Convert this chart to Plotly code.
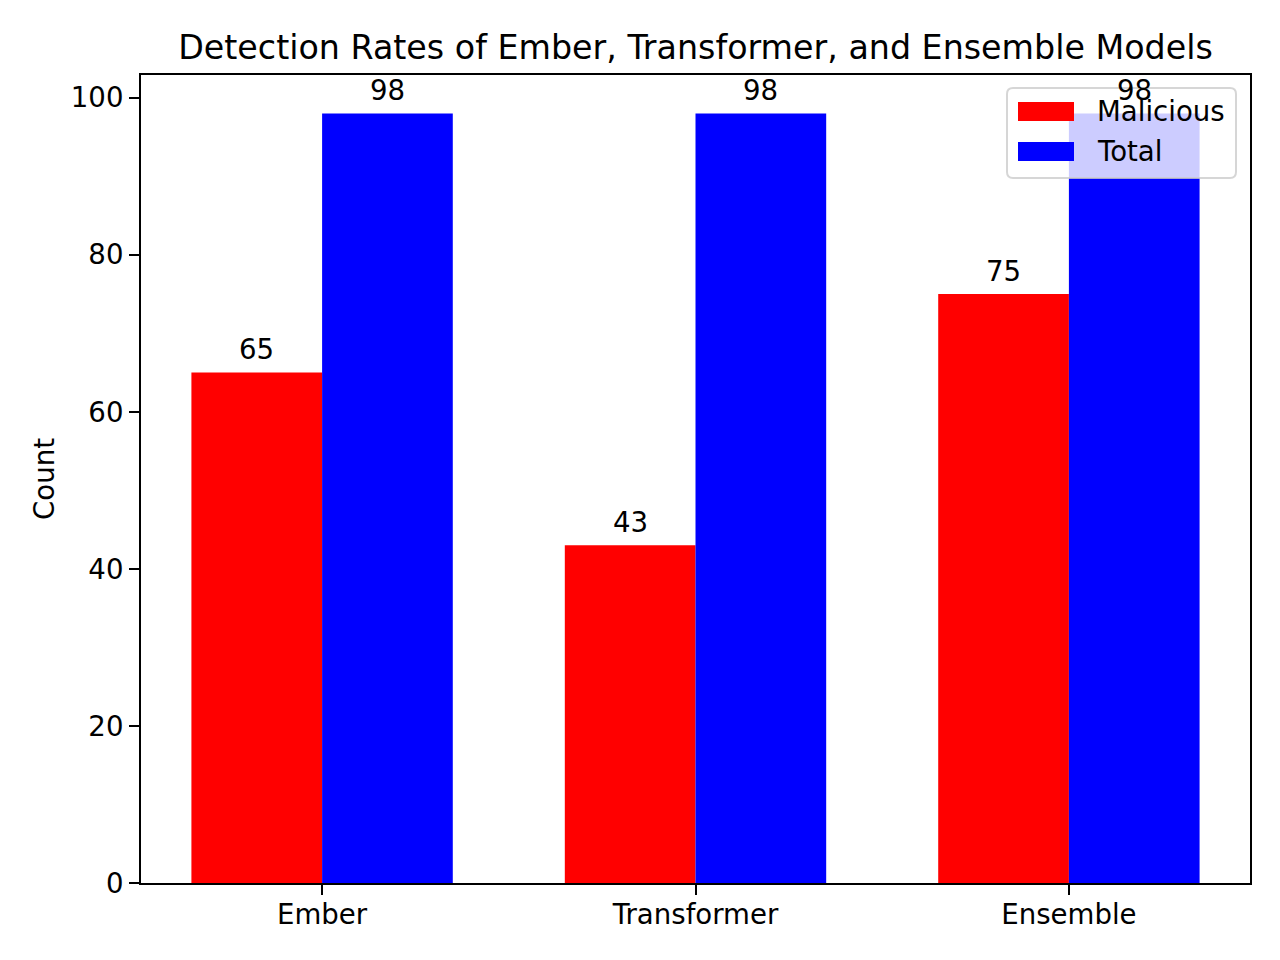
import plotly.graph_objects as go

models = ["Ember", "Transformer", "Ensemble"]
malicious = [65, 43, 75]
total = [98, 98, 98]
series_names = ["Malicious", "Total"]
yticks = [0, 20, 40, 60, 80, 100]

OFF = 8  # page body margin
W, H = 1264, 944
# plot area in screen pixels
L, R, T, B = 141, 1250, 75, 883
pw, ph = R - L, B - T
XRANGE = [-0.485, 2.485]
unit_px = pw / (XRANGE[1] - XRANGE[0])
BAR_W = 0.35

def px_x(p):
    return (p - L) / pw

def px_y(p):
    return (B - p) / ph

font = "DejaVu Sans, sans-serif"
FS = 27.6
TFS = 33.3

fig = go.Figure()
fig.add_trace(go.Bar(x=models, y=malicious, name=series_names[0], marker_color="#ff0000",
                     marker_line_width=0, showlegend=False))
fig.add_trace(go.Bar(x=models, y=total, name=series_names[1], marker_color="#0000ff",
                     marker_line_width=0, showlegend=False))

# value labels above bars
for vals, sign in ((malicious, -1), (total, 1)):
    for m, v in zip(models, vals):
        fig.add_annotation(x=m, y=v, text=str(v), showarrow=False, xref="x", yref="y",
                           xshift=sign * BAR_W / 2 * unit_px, yshift=23,
                           xanchor="center", yanchor="middle",
                           font=dict(size=FS, family=font, color="black"))

fig.update_layout(
    width=W, height=H,
    margin=dict(l=L - OFF, r=W + OFF - R, t=T - OFF, b=H + OFF - B, pad=0),
    paper_bgcolor="white", plot_bgcolor="white",
    barmode="group", bargap=1 - 2 * BAR_W, bargroupgap=0,
    font=dict(family=font, size=FS, color="black"),
    title=dict(text="Detection Rates of Ember, Transformer, and Ensemble Models",
               x=((L + R) / 2 - OFF) / W, xanchor="center", y=1 - (47 - OFF) / H, yanchor="middle",
               font=dict(size=TFS, family=font, color="black")),
)
fig.update_xaxes(range=XRANGE, showgrid=False, showline=True, linecolor="black",
                 linewidth=2, mirror=True, ticks="outside", ticklen=10, tickwidth=2,
                 tickcolor="black", tickfont=dict(size=FS, family=font), ticklabelstandoff=-4)
fig.update_yaxes(range=[0, 102.9], tickvals=yticks, showgrid=False, zeroline=False, showline=True,
                 linecolor="black", linewidth=2, mirror=True, ticks="outside", ticklen=10,
                 tickwidth=2, tickcolor="black", tickfont=dict(size=FS, family=font))

# y-axis title
fig.add_annotation(text="Count", xref="paper", yref="paper", x=px_x(44), y=0.5,
                   textangle=-90, showarrow=False, font=dict(size=FS, family=font),
                   xanchor="center", yanchor="middle")

# legend box (matplotlib-style)
bx0, bx1, by0, by1 = 1007, 1236, 88, 178
r = 6
path = (f"M {px_x(bx0 + r)},{px_y(by0)} L {px_x(bx1 - r)},{px_y(by0)} "
        f"Q {px_x(bx1)},{px_y(by0)} {px_x(bx1)},{px_y(by0 + r)} "
        f"L {px_x(bx1)},{px_y(by1 - r)} Q {px_x(bx1)},{px_y(by1)} {px_x(bx1 - r)},{px_y(by1)} "
        f"L {px_x(bx0 + r)},{px_y(by1)} Q {px_x(bx0)},{px_y(by1)} {px_x(bx0)},{px_y(by1 - r)} "
        f"L {px_x(bx0)},{px_y(by0 + r)} Q {px_x(bx0)},{px_y(by0)} {px_x(bx0 + r)},{px_y(by0)} Z")
fig.add_shape(type="path", path=path, xref="paper", yref="paper", layer="above",
              fillcolor="rgba(255,255,255,0.8)", line=dict(color="rgba(204,204,204,0.8)", width=2))
colors = ["#ff0000", "#0000ff"]
rows = [(102, 121), (142, 161)]
for name, c, (y0, y1) in zip(series_names, colors, rows):
    fig.add_shape(type="rect", xref="paper", yref="paper", layer="above",
                  x0=px_x(1018), x1=px_x(1074), y0=px_y(y1), y1=px_y(y0),
                  fillcolor=c, line=dict(width=0))
    fig.add_annotation(text=name, xref="paper", yref="paper", x=px_x(1095), y=px_y((y0 + y1) / 2),
                       xanchor="left", yanchor="middle", showarrow=False,
                       font=dict(size=FS, family=font, color="black"))

fig.write_html("out.html")
